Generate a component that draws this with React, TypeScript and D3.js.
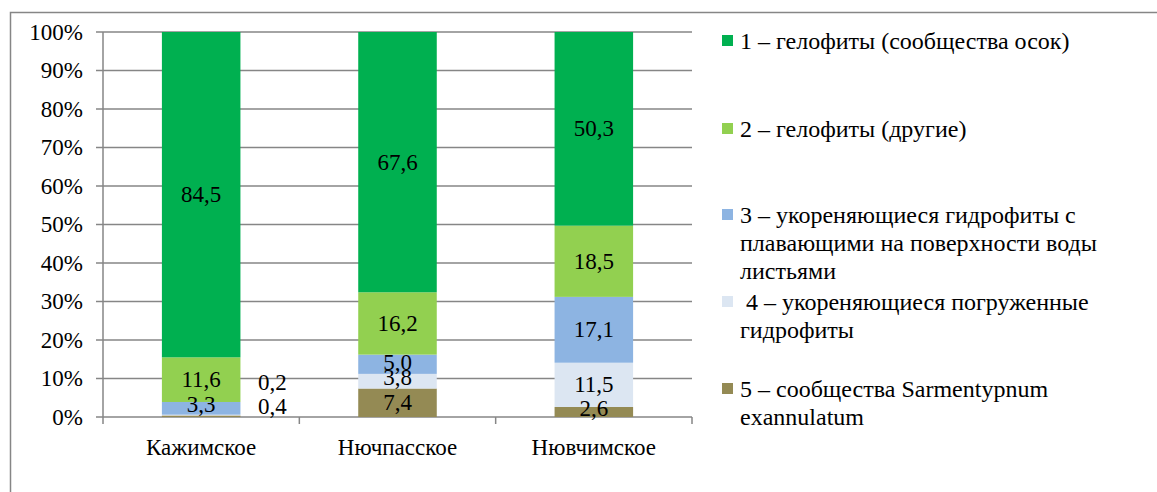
import React from "react";
import * as d3 from "d3";

const lakes = ["Кажимское", "Нючпасское", "Нювчимское"];
// series bottom -> top: 5, 4, 3, 2, 1
const s5 = [0.4, 7.4, 2.6];
const s4 = [0.2, 3.8, 11.5];
const s3 = [3.3, 5.0, 17.1];
const s2 = [11.6, 16.2, 18.5];
const s1 = [84.5, 67.6, 50.3];
const yTicks = [0, 10, 20, 30, 40, 50, 60, 70, 80, 90, 100];

const seriesNames = [
  ["1 – гелофиты (сообщества осок)"],
  ["2 – гелофиты (другие)"],
  ["3 – укореняющиеся гидрофиты с", "плавающими на поверхности воды", "листьями"],
  ["\u00a04 – укореняющиеся погруженные", "гидрофиты"],
  ["5 – сообщества Sarmentypnum", "exannulatum"],
];
const colors = ["#00B050", "#92D050", "#8DB4E2", "#DCE6F2", "#948A54"];

const W = 1157;
const H = 492;
const FONT = "Liberation Serif";

export default function App() {
  const margin = { left: 103, right: 465, top: 32, bottom: 75 };
  const x = d3
    .scaleBand()
    .domain(lakes)
    .range([margin.left, W - margin.right])
    .paddingInner(0.6)
    .paddingOuter(0.3);
  const y = d3.scaleLinear().domain([0, 100]).range([H - margin.bottom, margin.top]);

  const table = lakes.map((l, i) => ({ lake: l, s1: s1[i], s2: s2[i], s3: s3[i], s4: s4[i], s5: s5[i] }));
  const keys = ["s5", "s4", "s3", "s2", "s1"];
  const stacked = d3.stack<any>().keys(keys)(table);
  const colorOf: Record<string, string> = { s1: colors[0], s2: colors[1], s3: colors[2], s4: colors[3], s5: colors[4] };

  const bandStep = x.step();
  const x0 = margin.left;
  const x1 = W - margin.right;
  const ts = { fontFamily: FONT, fontSize: 23, fill: "#000" };
  const ls = { fontFamily: FONT, fontSize: 24, fill: "#000" };

  return (
    <svg width={W} height={H} style={{ position: "absolute", left: 0, top: 0 }}>
      <rect x={0} y={0} width={W} height={H} fill="#fff" />
      <rect x={10.5} y={12.5} width={W + 20} height={H + 20} fill="none" stroke="#868686" strokeWidth={1.5} />
      {/* gridlines */}
      {yTicks.map((t) => (
        <g key={t}>
          <line x1={x0 - 7} x2={x1} y1={y(t)} y2={y(t)} stroke="#868686" strokeWidth={1.5} />
          <text x={83} y={y(t)} dy="0.33em" textAnchor="end" style={ts}>
            {t}%
          </text>
        </g>
      ))}
      <line x1={x0} x2={x0} y1={y(100)} y2={y(0)} stroke="#868686" strokeWidth={1.5} />
      {/* category ticks */}
      {d3.range(lakes.length + 1).map((i) => (
        <line key={i} x1={x0 + i * bandStep} x2={x0 + i * bandStep} y1={y(0)} y2={y(0) + 7} stroke="#868686" strokeWidth={1.5} />
      ))}
      {stacked.map((layer) => (
        <g key={layer.key} fill={colorOf[layer.key]}>
          {layer.map((d, i) => (
            <rect key={i} x={x(lakes[i])} width={x.bandwidth()} y={y(d[1])} height={y(d[0]) - y(d[1])} />
          ))}
        </g>
      ))}
      {stacked.map((layer) =>
        layer.map((d, i) => {
          const v = d[1] - d[0];
          const small = v < 1;
          const cx = small ? (x(lakes[i]) as number) + x.bandwidth() + 32 : (x(lakes[i]) as number) + x.bandwidth() / 2;
          let cy = small ? (layer.key === "s4" ? y(0) - 35 : y(0) - 11) : y((d[0] + d[1]) / 2);
          if (!small && v < 4) cy -= 4;
          if (!small && v >= 4 && v < 6) cy -= 2;
          return (
            <text key={layer.key + i} x={cx} y={cy} dy="0.33em" textAnchor="middle" style={ts}>
              {v.toFixed(1).replace(".", ",")}
            </text>
          );
        })
      )}
      {lakes.map((l) => (
        <text key={l} x={(x(l) as number) + x.bandwidth() / 2} y={447} dy="0.33em" textAnchor="middle" style={ts}>
          {l}
        </text>
      ))}
      {/* legend */}
      {seriesNames.map((lines, i) => {
        const ly = [41, 129, 215, 302, 389][i];
        return (
          <g key={i}>
            <rect x={722} y={ly - 6} width={11} height={11} fill={colors[i]} />
            {lines.map((t, j) => (
              <text key={j} x={740} y={ly + j * 28} dy="0.33em" style={ls}>
                {t}
              </text>
            ))}
          </g>
        );
      })}
    </svg>
  );
}
